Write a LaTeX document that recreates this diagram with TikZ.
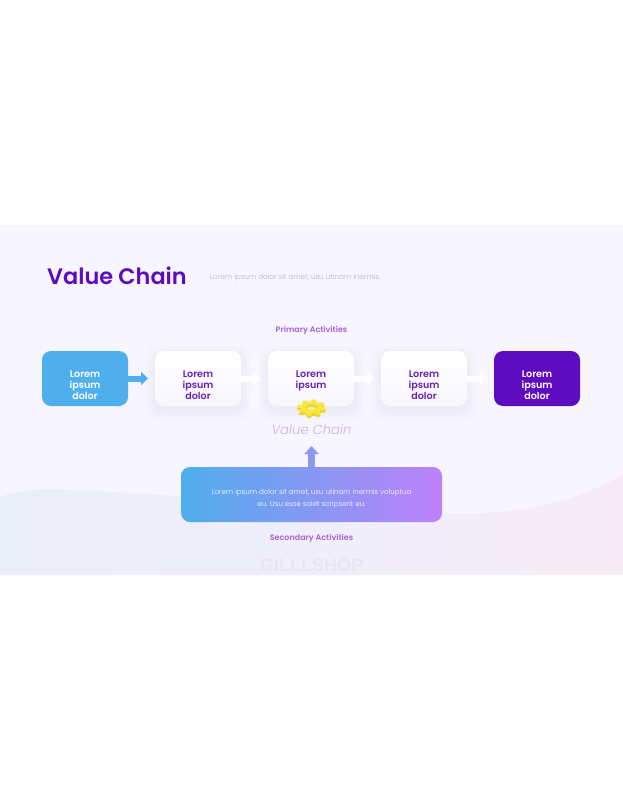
\documentclass[tikz,border=0pt]{standalone}
\usepackage{xcolor}
\usepackage{fontspec}
\setmainfont{Poppins}
\newfontfamily\lightfont{Poppins Light}
\newfontfamily\boldfont{Poppins SemiBold}
\newfontfamily\markfont{Liberation Sans}
\usepackage{tikz}
\usetikzlibrary{arrows.meta, positioning, backgrounds}
\definecolor{pagebg}{HTML}{F7F5FF}
\definecolor{deeppurple}{HTML}{5E0CC0}
\definecolor{inkpurple}{HTML}{6A20B4}
\definecolor{skyblue}{HTML}{4FAEEC}
\definecolor{orchid}{HTML}{BE80FA}
\definecolor{softpurple}{HTML}{A862D8}
\definecolor{palepurple}{HTML}{B9AEDF}
\definecolor{lilac}{HTML}{CBB2E8}
\definecolor{upblue}{HTML}{8E9AEC}
\definecolor{wavel}{HTML}{EBEFFA}
\definecolor{wavem}{HTML}{EFEEFA}
\definecolor{waver}{HTML}{F7ECF5}
\definecolor{boxlow}{HTML}{F8F6FE}
\definecolor{geartop}{HTML}{FBE83C}
\definecolor{gearside}{HTML}{E9D530}
\definecolor{gearhole}{HTML}{E3D044}
\definecolor{gearcore}{HTML}{F6EE8C}
\newcommand{\lowerbox}{\rule{0pt}{20pt}}
\newcommand{\lowerwide}{\rule{0pt}{13pt}}
\tikzset{
    activity/.style={rectangle, rounded corners=9pt, minimum width=86pt, minimum height=55pt, inner sep=0pt, outer sep=0pt, align=center, font=\boldfont\fontsize{9.6}{11.4}\selectfont},
    plainbox/.style={activity, top color=white, bottom color=boxlow, text=inkpurple},
    startbox/.style={activity, fill=skyblue, text=white},
    endbox/.style={activity, fill=deeppurple, text=white},
    supportbox/.style={rectangle, rounded corners=9pt, minimum width=261pt, minimum height=55pt, inner sep=0pt, outer sep=0pt, align=center, left color=skyblue, right color=orchid, text=white, font=\lightfont\fontsize{7.1}{12}\selectfont},
    caption/.style={text=softpurple, font=\boldfont\fontsize{8}{9}\selectfont},
    whitearrow/.style={-{Triangle[length=7pt,width=13pt]}, line width=6pt, white, shorten >=7pt},
    bluearrow/.style={-{Triangle[length=7pt,width=13pt]}, line width=6pt, skyblue, shorten >=7pt},
    uparrow/.style={-{Triangle[length=8pt,width=14pt]}, line width=7pt, upblue}
}

\begin{document}
\begin{tikzpicture}[x=1pt, y=-1pt, node distance=27pt]
    \useasboundingbox (0,0) rectangle (623,800);

    \node (title) [anchor=west, text=deeppurple, font=\boldfont\fontsize{22.4}{26}\selectfont, inner sep=0pt] at (47,276) {Value Chain};
    \node (subtitle) [anchor=west, text=palepurple, font=\lightfont\fontsize{7.2}{9}\selectfont, inner sep=0pt] at (210,278) {Lorem ipsum dolor sit amet, usu utinam inermis.};
    \node (primary) [caption] at (311.5,330) {Primary Activities};

    \node (act1) [startbox] at (85,378.5) {\lowerbox Lorem\\ipsum\\dolor};
    \node (act2) [plainbox, right=27pt of act1] {\lowerbox Lorem\\ipsum\\dolor};
    \node (act3) [plainbox, right=27pt of act2] {\lowerbox Lorem\\ipsum\\~};
    \node (act4) [plainbox, right=27pt of act3] {\lowerbox Lorem\\ipsum\\dolor};
    \node (act5) [endbox, right=27pt of act4] {\lowerbox Lorem\\ipsum\\dolor};

    \begin{scope}[on background layer]
        \fill[white] (0,0) rectangle (623,800);
        \fill[pagebg] (0,225) rectangle (623,575);
        \shade[left color=wavel, right color=waver, middle color=wavem] (0,497) .. controls (15,491) and (35,488) .. (70,490) .. controls (180,494) and (300,508) .. (440,513) .. controls (520,516) and (570,503) .. (623,475) -- (623,575) -- (0,575) -- cycle;
        \foreach \nm in {act2,act3,act4}
            \foreach \s in {1,...,10}
                \fill[deeppurple, opacity=0.004, rounded corners=11pt] ([shift={(-\s,-\s+4)}]\nm.north west) rectangle ([shift={(\s,\s+4)}]\nm.south east);
    \end{scope}

    \draw[bluearrow] (act1) -- (act2);
    \draw[whitearrow] (act2) -- (act3);
    \draw[whitearrow] (act3) -- (act4);
    \draw[whitearrow] (act4) -- (act5);

    \fill[gearside] plot[domain=0:360, samples=160] ({311.5+(12.5+2*max(-1,min(1,1.6*sin(8*\x))))*cos(\x)}, {410+0.56*(12.5+2*max(-1,min(1,1.6*sin(8*\x))))*sin(\x)});
    \fill[geartop] plot[domain=0:360, samples=160] ({311.5+(12.5+2*max(-1,min(1,1.6*sin(8*\x))))*cos(\x)}, {407.5+0.56*(12.5+2*max(-1,min(1,1.6*sin(8*\x))))*sin(\x)});
    \fill[gearhole] (311.5,407.5) ellipse (6pt and 3pt);
    \fill[gearcore] (311.5,408.5) ellipse (4.5pt and 2pt);

    \node (chain) [text=lilac, font=\lightfont\itshape\fontsize{13.2}{15}\selectfont, inner sep=0pt] at (311.5,429.5) {Value Chain};

    \node (support) [supportbox] at (311.5,494.5) {\lowerwide Lorem ipsum dolor sit amet, usu utinam inermis voluptua\\eu. Usu esse solet scripserit eu.};
    \coordinate (uptip) at (311.5,446);
    \draw[uparrow] (support) -- (uptip);

    \node (secondary) [caption] at (311.5,538.5) {Secondary Activities};
    \node (mark) [text=black!6!pagebg, font=\markfont\bfseries\fontsize{18}{20}\selectfont, inner sep=0pt] at (311.5,565) {GILLLSHOP};
\end{tikzpicture}
\end{document}
